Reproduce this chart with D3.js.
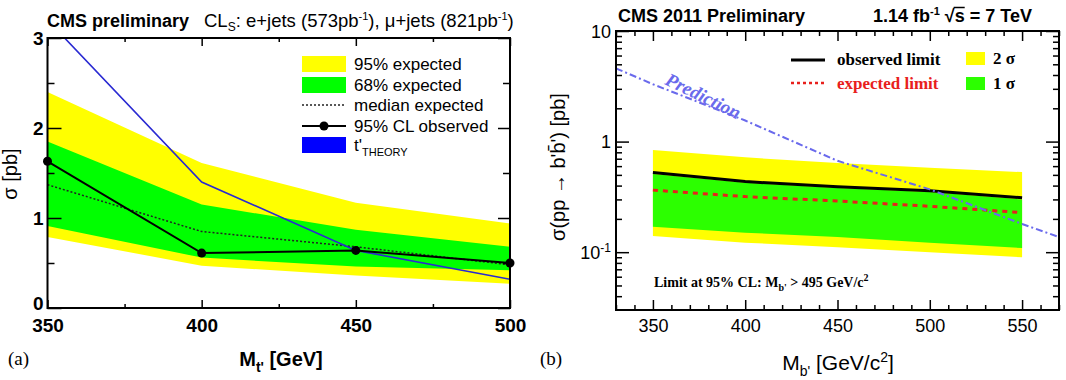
<!DOCTYPE html>
<html>
<head>
<meta charset="utf-8">
<script src="https://cdn.jsdelivr.net/npm/d3@7"></script>
<style>
  body { margin: 0; background: #fff; }
  text { font-family: "Liberation Sans", Arial, sans-serif; }
  .serif { font-family: "Liberation Serif", "Times New Roman", serif; }
</style>
</head>
<body>
<script>
// (a) t' limits, linear axis
const massT = [350, 400, 450, 500]
const t95Lo = [0.79, 0.47, 0.36, 0.27]
const t95Hi = [2.40, 1.61, 1.17, 0.94]
const t68Lo = [0.91, 0.56, 0.46, 0.42]
const t68Hi = [1.85, 1.15, 0.87, 0.68]
const tMedian = [1.37, 0.85, 0.68, 0.48]
const tObserved = [1.63, 0.61, 0.64, 0.50]
const tTheory = [3.2, 1.40, 0.64, 0.32]
const ticksTx = [350, 400, 450, 500]
const ticksTy = [0, 1, 2, 3]

// (b) b' limits, log axis
const massB = [350, 400, 450, 500, 550]
const bObserved = [0.525, 0.435, 0.39, 0.36, 0.31]
const bExpected = [0.364, 0.318, 0.29, 0.26, 0.228]
const b1Lo = [0.17, 0.15, 0.137, 0.122, 0.109]
const b1Hi = [0.51, 0.425, 0.38, 0.35, 0.30]
const b2Lo = [0.14, 0.122, 0.111, 0.10, 0.09]
const b2Hi = [0.84, 0.72, 0.64, 0.58, 0.53]
const predMass = [330, 350, 400, 450, 500, 550, 570]
const predXs = [4.6, 3.3, 1.55, 0.67, 0.37, 0.18, 0.137]
const ticksBx = [350, 400, 450, 500, 550]

const svg = d3.select('body').append('svg').attr('width', 1066).attr('height', 380)

// ---------- panel (a) ----------
const A = {x0: 47.5, x1: 510, y0: 38, y1: 308}
const xa = d3.scaleLinear().domain([350, 500]).range([A.x0, A.x1])
const ya = d3.scaleLinear().domain([0, 3]).range([A.y1, A.y0])

svg.append('clipPath').attr('id', 'clipA').append('rect')
  .attr('x', A.x0).attr('y', A.y0).attr('width', A.x1 - A.x0).attr('height', A.y1 - A.y0)

const gA = svg.append('g')
const plotA = gA.append('g').attr('clip-path', 'url(#clipA)')

const tRows = massT.map((m, i) => ({m: m, lo95: t95Lo[i], hi95: t95Hi[i], lo68: t68Lo[i], hi68: t68Hi[i],
  med: tMedian[i], obs: tObserved[i], th: tTheory[i]}))

plotA.append('path').attr('fill', '#ffff00')
  .attr('d', d3.area().x(d => xa(d.m)).y0(d => ya(d.lo95)).y1(d => ya(d.hi95))(tRows))
plotA.append('path').attr('fill', '#00ff00')
  .attr('d', d3.area().x(d => xa(d.m)).y0(d => ya(d.lo68)).y1(d => ya(d.hi68))(tRows))
plotA.append('path').attr('fill', 'none').attr('stroke', '#222').attr('stroke-width', 1.5)
  .attr('stroke-dasharray', '2,2')
  .attr('d', d3.line().x(d => xa(d.m)).y(d => ya(d.med))(tRows))
plotA.append('path').attr('fill', 'none').attr('stroke', '#2a2ad2').attr('stroke-width', 1.6)
  .attr('d', d3.line().x(d => xa(d.m)).y(d => ya(d.th))(tRows))
plotA.append('path').attr('fill', 'none').attr('stroke', '#000').attr('stroke-width', 2)
  .attr('d', d3.line().x(d => xa(d.m)).y(d => ya(d.obs))(tRows))
gA.selectAll('circle.obs').data(tRows).join('circle').attr('class', 'obs')
  .attr('cx', d => xa(d.m)).attr('cy', d => ya(d.obs)).attr('r', 4.5).attr('fill', '#000')

// axes (a)
function noDomain(g) { g.select('.domain').remove() }
gA.append('g').attr('transform', 'translate(0,' + A.y1 + ')')
  .call(d3.axisBottom(xa).tickValues(ticksTx).tickSize(-8).tickPadding(10.5).tickFormat(d3.format('d')))
  .call(noDomain)
  .call(g => g.selectAll('text').style('font-size', '19px').style('font-weight', 'bold').attr('fill', '#000'))
gA.append('g').attr('transform', 'translate(0,' + A.y1 + ')')
  .call(d3.axisBottom(xa).tickValues([375, 425, 475]).tickSize(-4).tickFormat('')).call(noDomain)
gA.append('g').attr('transform', 'translate(0,' + A.y0 + ')')
  .call(d3.axisBottom(xa).tickValues(ticksTx).tickSize(8).tickFormat('')).call(noDomain)
gA.append('g').attr('transform', 'translate(0,' + A.y0 + ')')
  .call(d3.axisBottom(xa).tickValues([375, 425, 475]).tickSize(4).tickFormat('')).call(noDomain)
gA.append('g').attr('transform', 'translate(' + A.x0 + ',0)')
  .call(d3.axisLeft(ya).tickValues(ticksTy).tickSize(-14).tickPadding(4).tickFormat(d3.format('d')))
  .call(noDomain)
  .call(g => g.selectAll('text').style('font-size', '19px').style('font-weight', 'bold').attr('fill', '#000')
    .attr('dy', d => d === 0 ? '0.1em' : '0.32em'))
gA.append('g').attr('transform', 'translate(' + A.x0 + ',0)')
  .call(d3.axisLeft(ya).tickValues([0.5, 1.5, 2.5]).tickSize(-7).tickFormat('')).call(noDomain)
gA.append('g').attr('transform', 'translate(' + A.x1 + ',0)')
  .call(d3.axisLeft(ya).tickValues(ticksTy).tickSize(12).tickFormat('')).call(noDomain)
gA.append('g').attr('transform', 'translate(' + A.x1 + ',0)')
  .call(d3.axisLeft(ya).tickValues([0.5, 1.5, 2.5]).tickSize(7).tickFormat('')).call(noDomain)
gA.selectAll('.tick line').attr('stroke', '#000').attr('stroke-width', 1.5)
gA.append('rect').attr('x', A.x0).attr('y', A.y0).attr('width', A.x1 - A.x0).attr('height', A.y1 - A.y0)
  .attr('fill', 'none').attr('stroke', '#000').attr('stroke-width', 2)

// titles (a)
gA.append('text').attr('x', 47).attr('y', 27).style('font-size', '18px').style('font-weight', 'bold')
  .text('CMS preliminary')
const clT = gA.append('text').attr('x', 204).attr('y', 27).style('font-size', '18.5px')
clT.append('tspan').text('CL')
clT.append('tspan').attr('dy', 4).style('font-size', '12px').text('S')
clT.append('tspan').attr('dy', -4).text(': e+jets (573pb')
clT.append('tspan').attr('dy', -7).style('font-size', '11px').text('-1')
clT.append('tspan').attr('dy', 7).text('), \u03bc+jets (821pb')
clT.append('tspan').attr('dy', -7).style('font-size', '11px').text('-1')
clT.append('tspan').attr('dy', 7).text(')')

gA.append('text').attr('transform', 'translate(17,174) rotate(-90)').attr('text-anchor', 'middle')
  .style('font-size', '20px').text('\u03c3 [pb]')
const xlA = gA.append('text').attr('x', 281).attr('y', 366).attr('text-anchor', 'middle')
  .style('font-size', '20px').style('font-weight', 'bold')
xlA.append('tspan').text('M')
xlA.append('tspan').attr('dy', 6).style('font-size', '14px').text("t'")
xlA.append('tspan').attr('dy', -6).text(' [GeV]')
gA.append('text').attr('class', 'serif').attr('x', 8).attr('y', 365).style('font-size', '19px').text('(a)')

// legend (a)
const legA = gA.append('g')
const legX = 302, legW = 44, legTx = 354
legA.append('rect').attr('x', legX).attr('y', 56).attr('width', legW).attr('height', 16).attr('fill', '#ffff00')
legA.append('rect').attr('x', legX).attr('y', 77).attr('width', legW).attr('height', 16).attr('fill', '#00ff00')
legA.append('line').attr('x1', legX).attr('x2', legX + legW).attr('y1', 105).attr('y2', 105)
  .attr('stroke', '#222').attr('stroke-width', 1.5).attr('stroke-dasharray', '2,2')
legA.append('line').attr('x1', legX).attr('x2', legX + legW).attr('y1', 126).attr('y2', 126)
  .attr('stroke', '#000').attr('stroke-width', 2)
legA.append('circle').attr('cx', legX + legW / 2).attr('cy', 126).attr('r', 4.5)
legA.append('rect').attr('x', legX).attr('y', 137).attr('width', legW).attr('height', 16).attr('fill', '#0000ff')
const legLabels = ['95% expected', '68% expected', 'median expected', '95% CL observed']
legLabels.forEach((s, i) => {
  legA.append('text').attr('x', legTx).attr('y', 70 + i * 20.7).style('font-size', '17px').text(s)
})
const thT = legA.append('text').attr('x', legTx).attr('y', 151).style('font-size', '17px')
thT.append('tspan').text("t'")
thT.append('tspan').attr('dy', 5).style('font-size', '11px').text('THEORY')

// ---------- panel (b) ----------
const B = {x0: 616, x1: 1059, y0: 31, y1: 310}
const xb = d3.scaleLinear().domain([330, 570]).range([B.x0, B.x1])
const yb = d3.scaleLog().domain([0.03, 10]).range([B.y1, B.y0])

svg.append('clipPath').attr('id', 'clipB').append('rect')
  .attr('x', B.x0).attr('y', B.y0).attr('width', B.x1 - B.x0).attr('height', B.y1 - B.y0)
const gB = svg.append('g')
const plotB = gB.append('g').attr('clip-path', 'url(#clipB)')

const bRows = massB.map((m, i) => ({m: m, obs: bObserved[i], exp: bExpected[i],
  lo1: b1Lo[i], hi1: b1Hi[i], lo2: b2Lo[i], hi2: b2Hi[i]}))
const predRows = predMass.map((m, i) => ({m: m, v: predXs[i]}))

plotB.append('path').attr('fill', '#ffff00')
  .attr('d', d3.area().x(d => xb(d.m)).y0(d => yb(d.lo2)).y1(d => yb(d.hi2))(bRows))
plotB.append('path').attr('fill', '#2cff00')
  .attr('d', d3.area().x(d => xb(d.m)).y0(d => yb(d.lo1)).y1(d => yb(d.hi1))(bRows))
plotB.append('path').attr('fill', 'none').attr('stroke', '#000').attr('stroke-width', 3)
  .attr('d', d3.line().x(d => xb(d.m)).y(d => yb(d.obs))(bRows))
plotB.append('path').attr('fill', 'none').attr('stroke', '#e8201c').attr('stroke-width', 3)
  .attr('stroke-dasharray', '5,5')
  .attr('d', d3.line().x(d => xb(d.m)).y(d => yb(d.exp))(bRows))
plotB.append('path').attr('fill', 'none').attr('stroke', '#6a6aec').attr('stroke-width', 2)
  .attr('stroke-dasharray', '7,3,2,3')
  .attr('d', d3.line().x(d => xb(d.m)).y(d => yb(d.v))(predRows))

// axes (b)
const minorBx = d3.range(330, 571, 10).filter(v => v % 50 !== 0)
const minorBy = [0.04, 0.05, 0.06, 0.07, 0.08, 0.09, 0.2, 0.3, 0.4, 0.5, 0.6, 0.7, 0.8, 0.9,
  2, 3, 4, 5, 6, 7, 8, 9]
const majorBy = [0.1, 1, 10]
gB.append('g').attr('transform', 'translate(0,' + B.y1 + ')')
  .call(d3.axisBottom(xb).tickValues(ticksBx).tickSize(-10).tickPadding(9.5).tickFormat(d3.format('d')))
  .call(noDomain)
  .call(g => g.selectAll('text').style('font-size', '18px').attr('fill', '#000'))
gB.append('g').attr('transform', 'translate(0,' + B.y1 + ')')
  .call(d3.axisBottom(xb).tickValues(minorBx).tickSize(-5).tickFormat('')).call(noDomain)
gB.append('g').attr('transform', 'translate(0,' + B.y0 + ')')
  .call(d3.axisBottom(xb).tickValues(ticksBx).tickSize(10).tickFormat('')).call(noDomain)
gB.append('g').attr('transform', 'translate(0,' + B.y0 + ')')
  .call(d3.axisBottom(xb).tickValues(minorBx).tickSize(5).tickFormat('')).call(noDomain)
gB.append('g').attr('transform', 'translate(' + B.x0 + ',0)')
  .call(d3.axisLeft(yb).tickValues(majorBy).tickSize(-13).tickFormat('')).call(noDomain)
gB.append('g').attr('transform', 'translate(' + B.x0 + ',0)')
  .call(d3.axisLeft(yb).tickValues(minorBy).tickSize(-6).tickFormat('')).call(noDomain)
gB.append('g').attr('transform', 'translate(' + B.x1 + ',0)')
  .call(d3.axisLeft(yb).tickValues(majorBy).tickSize(13).tickFormat('')).call(noDomain)
gB.append('g').attr('transform', 'translate(' + B.x1 + ',0)')
  .call(d3.axisLeft(yb).tickValues(minorBy).tickSize(6).tickFormat('')).call(noDomain)
gB.selectAll('.tick line').attr('stroke', '#000').attr('stroke-width', 1.5)
gB.append('rect').attr('x', B.x0).attr('y', B.y0).attr('width', B.x1 - B.x0).attr('height', B.y1 - B.y0)
  .attr('fill', 'none').attr('stroke', '#000').attr('stroke-width', 2)

// log tick labels
majorBy.forEach(v => {
  const e = Math.round(Math.log10(v))
  const t = gB.append('text').attr('x', 611).attr('y', yb(v) + 6.5).attr('text-anchor', 'end')
    .style('font-size', '18px')
  if (e === 0) t.text('1')
  else if (e === 1) t.text('10')
  else {
    t.append('tspan').text('10')
    t.append('tspan').attr('dy', -7).style('font-size', '12px').text(String(e))
  }
})

// titles (b)
gB.append('text').attr('x', 618).attr('y', 22).style('font-size', '18px').style('font-weight', 'bold')
  .text('CMS 2011 Preliminary')
const lumT = gB.append('text').attr('x', 873).attr('y', 22).style('font-size', '18px').style('font-weight', 'bold')
lumT.append('tspan').text('1.14 fb')
lumT.append('tspan').attr('dy', -7).style('font-size', '11px').text('-1')
lumT.append('tspan').attr('dy', 7).text(' \u221as = 7 TeV')
const rootBox = lumT.node().getExtentOfChar(10)
const sBox = lumT.node().getExtentOfChar(11)
gB.append('line').attr('x1', rootBox.x + rootBox.width - 1).attr('x2', sBox.x + sBox.width)
  .attr('y1', 7.5).attr('y2', 7.5).attr('stroke', '#000').attr('stroke-width', 1.5)

gB.append('text').attr('transform', 'translate(565,167) rotate(-90)').attr('text-anchor', 'middle')
  .style('font-size', '20px').text("\u03c3(pp \u2192 b'b\u0304') [pb]")
const xlB = gB.append('text').attr('x', 838).attr('y', 370).attr('text-anchor', 'middle')
  .style('font-size', '21px')
xlB.append('tspan').text('M')
xlB.append('tspan').attr('dy', 6).style('font-size', '14px').text("b'")
xlB.append('tspan').attr('dy', -6).text(' [GeV/c')
xlB.append('tspan').attr('dy', -8).style('font-size', '14px').text('2')
xlB.append('tspan').attr('dy', 8).text(']')
gB.append('text').attr('class', 'serif').attr('x', 540).attr('y', 365).style('font-size', '19px').text('(b)')

const limT = gB.append('text').attr('class', 'serif').attr('x', 654).attr('y', 287)
  .style('font-size', '14px').style('font-weight', 'bold')
limT.append('tspan').text('Limit at 95% CL: M')
limT.append('tspan').attr('dy', 4).style('font-size', '10px').text("b'")
limT.append('tspan').attr('dy', -4).text(' > 495 GeV/c')
limT.append('tspan').attr('dy', -6).style('font-size', '10px').text('2')

gB.append('text').attr('class', 'serif').attr('transform', 'translate(664,84) rotate(26)')
  .style('font-size', '19px').style('font-weight', 'bold').style('font-style', 'italic')
  .attr('fill', '#6a6aec').text('Prediction')

// legend (b)
const legB = gB.append('g')
legB.append('line').attr('x1', 791).attr('x2', 825).attr('y1', 60).attr('y2', 60)
  .attr('stroke', '#000').attr('stroke-width', 3)
legB.append('line').attr('x1', 791).attr('x2', 825).attr('y1', 83).attr('y2', 83)
  .attr('stroke', '#e8201c').attr('stroke-width', 2.5).attr('stroke-dasharray', '3,3')
legB.append('text').attr('class', 'serif').attr('x', 837).attr('y', 65)
  .style('font-size', '17px').style('font-weight', 'bold').text('observed limit')
legB.append('text').attr('class', 'serif').attr('x', 837).attr('y', 89)
  .style('font-size', '17px').style('font-weight', 'bold').attr('fill', '#e8201c').text('expected limit')
legB.append('rect').attr('x', 966).attr('y', 52).attr('width', 19).attr('height', 13).attr('fill', '#ffff00')
legB.append('rect').attr('x', 966).attr('y', 77).attr('width', 19).attr('height', 13).attr('fill', '#2cff00')
legB.append('text').attr('class', 'serif').attr('x', 993).attr('y', 64)
  .style('font-size', '17px').style('font-weight', 'bold').text('2 \u03c3')
legB.append('text').attr('class', 'serif').attr('x', 993).attr('y', 89)
  .style('font-size', '17px').style('font-weight', 'bold').text('1 \u03c3')
</script>
</body>
</html>
